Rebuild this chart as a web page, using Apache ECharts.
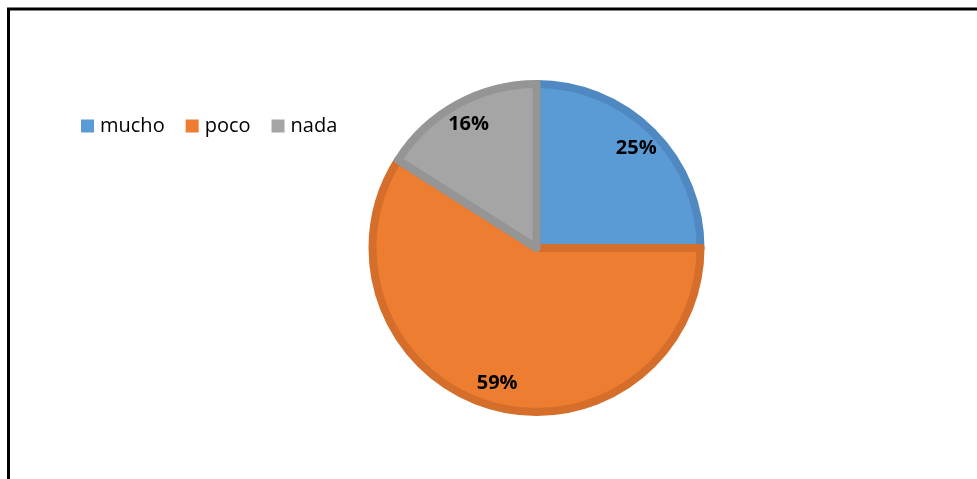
<!DOCTYPE html>
<html>
<head>
<meta charset="utf-8">
<script src="https://cdn.jsdelivr.net/npm/echarts@6/dist/echarts.min.js"></script>
<style>
html,body{margin:0;padding:0;background:#fff;}
#c{width:977px;height:479px;}
</style>
</head>
<body>
<div id="c"></div>
<script>
const categories = ['mucho', 'poco', 'nada'];
const values = [25, 59, 16];
const fillColors = ['#5B9BD5', '#ED7D31', '#A5A5A5'];
const edgeColors = ['#5089C2', '#D66E2B', '#959595'];

const chart = echarts.init(document.getElementById('c'), null, {renderer: 'canvas'});
const data = categories.map((n, i) => ({
  name: n, value: values[i],
  itemStyle: {color: fillColors[i], borderColor: edgeColors[i]}
}));
chart.setOption({
  animation: false,
  backgroundColor: '#fff',
  graphic: [{
    type: 'rect', silent: true, z: 100,
    shape: {x: 8.5, y: 9, width: 1100, height: 600},
    style: {fill: 'none', stroke: '#000', lineWidth: 3}
  }],
  legend: {
    data: categories,
    left: 76, top: 111,
    itemWidth: 13, itemHeight: 13, itemGap: 21,
    icon: 'rect',
    itemStyle: {borderWidth: 0},
    textStyle: {fontFamily: 'Open Sans', fontSize: 20, color: '#000', padding: [0, 0, 0, 1]}
  },
  series: [{
    type: 'pie',
    center: [536.5, 248],
    radius: [0, 164],
    startAngle: 90,
    clockwise: true,
    data: data,
    itemStyle: {borderWidth: 8},
    label: {show: false},
    labelLine: {show: false},
    emphasis: {disabled: true}
  }, {
    type: 'pie',
    center: [536.5, 248],
    radius: [108, 168],
    startAngle: 90,
    clockwise: true,
    silent: true,
    legendHoverLink: false,
    data: categories.map((n, i) => ({name: n, value: values[i]})),
    itemStyle: {color: 'rgba(0,0,0,0)', borderWidth: 0},
    label: {
      show: true, position: 'inside',
      formatter: p => p.value + '%',
      fontFamily: 'Open Sans', fontWeight: 'bold', fontSize: 20, color: '#000'
    },
    labelLine: {show: false},
    emphasis: {disabled: true}
  }]
});
</script>
</body>
</html>
